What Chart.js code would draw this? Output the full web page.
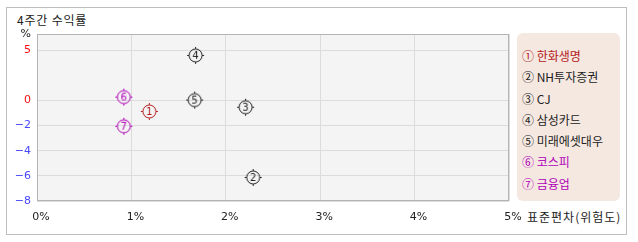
<!DOCTYPE html>
<html>
<head>
<meta charset="utf-8">
<script src="https://cdn.jsdelivr.net/npm/chart.js@4"></script>
<style>
  body { margin: 0; background: #fff; font-family: "Noto Sans CJK KR", "DejaVu Sans", sans-serif; }
  #wrap { position: relative; width: 638px; height: 242px; }
  #box { position: absolute; left: 6px; top: 7px; width: 621px; height: 228px; border: 1px solid #bdbdbd; box-sizing: border-box; }
  #title { position: absolute; left: 17px; top: 11px; font-size: 12px; letter-spacing: 0.8px; color: #222; }
  #xtitle { position: absolute; left: 527px; top: 208px; font-size: 12px; letter-spacing: 1px; color: #222; }
  #legend { position: absolute; left: 517px; top: 33px; width: 103px; height: 168px; background: #f5e8e1; border-radius: 6px; padding: 12px 0 0 5px; box-sizing: border-box; }
  #legend div { font-size: 12px; height: 21.3px; line-height: 21px; white-space: nowrap; }
  canvas { position: absolute; left: 0; top: 0; }
</style>
</head>
<body>
<div id="wrap">
  <div id="box"></div>
  <div id="title">4주간 수익률</div>
  <div id="legend"></div>
  <div id="xtitle">표준편차(위험도)</div>
  <canvas id="chart" width="638" height="242"></canvas>
</div>
<script>
  const names = ['한화생명', 'NH투자증권', 'CJ', '삼성카드', '미래에셋대우', '코스피', '금융업'];
  const marks = ['①', '②', '③', '④', '⑤', '⑥', '⑦'];
  const riskX = [1.19, 2.29, 2.21, 1.68, 1.67, 0.92, 0.92];
  const returnY = [-0.88, -6.13, -0.54, 4.47, 0.03, 0.33, -2.06];
  const colors = ['#b22020', '#222222', '#222222', '#222222', '#222222', '#b000b8', '#b000b8'];
  const xTicks = [0, 1, 2, 3, 4, 5];
  const yTicks = [-8, -6, -4, -2, 0, 5];
  const yTop = 6.6;     // top edge of the plot, labelled '%'
  const posRatio = 0.8; // positive side of the y axis is compressed

  // legend
  const legend = document.getElementById('legend');
  names.forEach((n, i) => {
    const d = document.createElement('div');
    d.textContent = marks[i] + ' ' + n;
    d.style.color = colors[i];
    legend.appendChild(d);
  });

  // y axis with a different unit length above and below zero
  class SplitScale extends Chart.LinearScale {
    getPixelForValue(v) {
      return super.getPixelForValue(v > 0 ? v * posRatio : v);
    }
  }
  SplitScale.id = 'split';
  SplitScale.defaults = Chart.LinearScale.defaults;
  Chart.register(SplitScale);

  function markerImage(i) {
    const c = document.createElement('canvas');
    c.width = 19; c.height = 19;
    const g = c.getContext('2d');
    const cx = 9.5, cy = 9.5, r = 6.5;
    g.strokeStyle = colors[i];
    g.fillStyle = colors[i];
    g.lineWidth = 1;
    g.beginPath();
    g.arc(cx, cy, r, 0, Math.PI * 2);
    g.stroke();
    g.beginPath();
    g.moveTo(cx, cy - r - 2); g.lineTo(cx, cy - r);
    g.moveTo(cx, cy + r); g.lineTo(cx, cy + r + 2);
    g.moveTo(cx - r - 2, cy); g.lineTo(cx - r, cy);
    g.moveTo(cx + r, cy); g.lineTo(cx + r + 2, cy);
    g.stroke();
    g.font = '10px "DejaVu Sans"';
    g.textAlign = 'center';
    g.textBaseline = 'middle';
    g.fillText(String(i + 1), cx, cy + 0.5);
    return c;
  }

  const plotFrame = {
    id: 'plotFrame',
    beforeDraw(chart) {
      const a = chart.chartArea, ctx = chart.ctx;
      ctx.save();
      ctx.fillStyle = '#f4f4f4';
      ctx.fillRect(a.left, a.top, a.right - a.left, a.bottom - a.top);
      ctx.restore();
    },
    beforeDatasetsDraw(chart) {
      const a = chart.chartArea, ctx = chart.ctx;
      ctx.save();
      ctx.strokeStyle = '#b4b4b4';
      ctx.lineWidth = 1;
      ctx.strokeRect(a.left + 0.5, a.top + 0.5, a.right - a.left - 1, a.bottom - a.top - 1);
      ctx.restore();
    }
  };

  new Chart(document.getElementById('chart'), {
    type: 'scatter',
    data: {
      datasets: [{
        data: riskX.map((x, i) => ({ x: x, y: returnY[i] })),
        pointStyle: names.map((n, i) => markerImage(i)),
        pointRadius: 7,
        pointHoverRadius: 7
      }]
    },
    plugins: [plotFrame],
    options: {
      responsive: false,
      animation: false,
      layout: { padding: { left: 0, right: 129, top: 34, bottom: 0 } },
      plugins: { legend: { display: false }, tooltip: { enabled: false } },
      scales: {
        x: {
          type: 'linear',
          min: 0,
          max: 5,
          afterBuildTicks: s => { s.ticks = xTicks.map(v => ({ value: v })); },
          afterFit: s => { s.height = 41; },
          grid: { color: '#dcdcdc', drawTicks: false },
          border: { display: false },
          ticks: {
            callback: v => v + '%',
            color: '#222',
            font: { family: 'DejaVu Sans', size: 11 },
            padding: 10,
            labelOffset: 4,
            maxRotation: 0
          }
        },
        y: {
          type: 'split',
          min: -8,
          max: yTop * posRatio,
          afterBuildTicks: s => { s.ticks = yTicks.concat([yTop]).map(v => ({ value: v })); },
          afterFit: s => { s.width = 37; },
          grid: { color: '#dcdcdc', drawTicks: false },
          border: { display: false },
          ticks: {
            callback: v => v === yTop ? '%' : (v < 0 ? '\u2212' + Math.abs(v) : String(v)),
            color: c => c.tick.value === yTop ? '#222' : (c.tick.value >= 0 ? '#ff1010' : '#4848ff'),
            font: { family: 'DejaVu Sans', size: 11 },
            padding: 6
          }
        }
      }
    }
  });
</script>
</body>
</html>
